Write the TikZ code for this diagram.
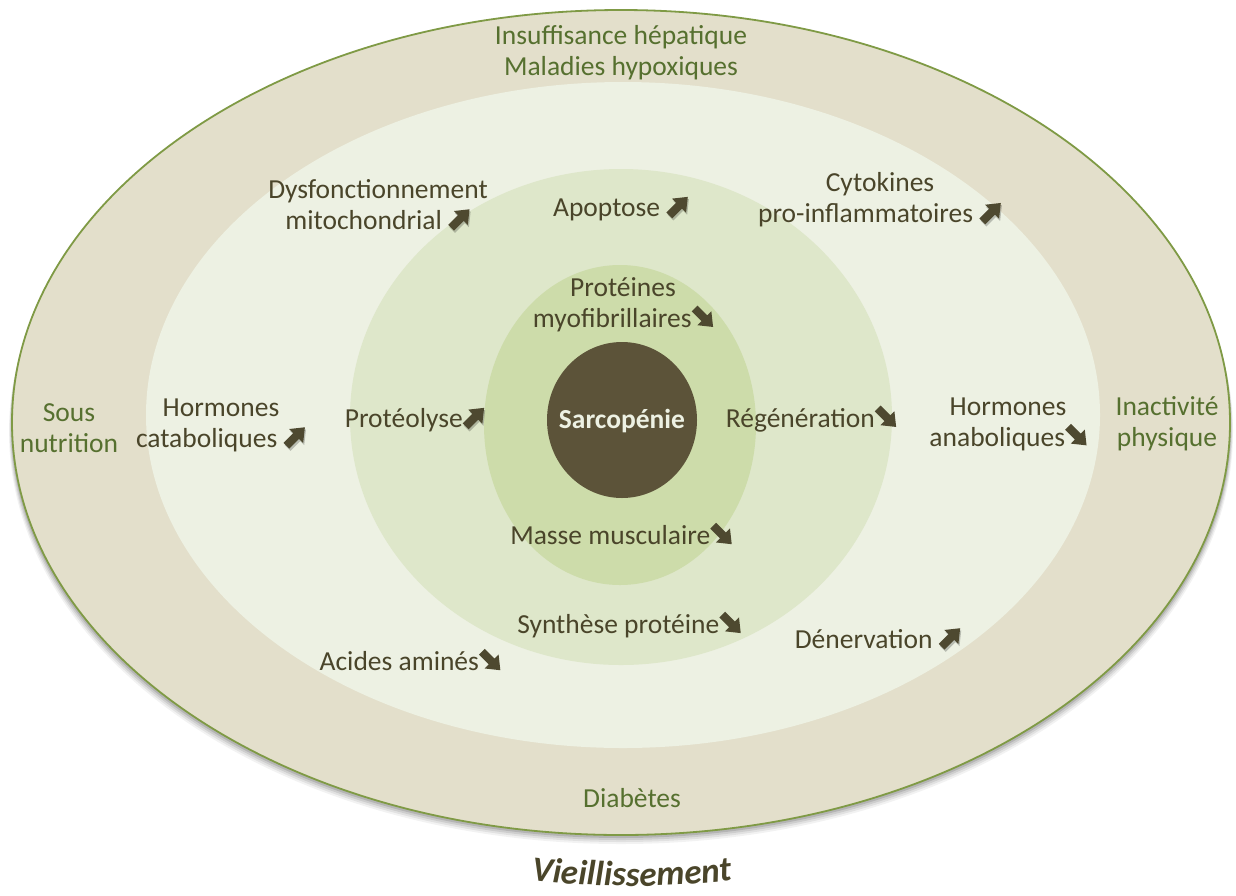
\documentclass[tikz,border=0pt]{standalone}
\usepackage{fontspec}
\setmainfont{Carlito}
\usepackage{xcolor}
\usepackage{tikz}
\usetikzlibrary{
    calc,
    decorations.text
}
\definecolor{beigeout}{HTML}{E3DFCB}
\definecolor{greenpale}{HTML}{EDF1E3}
\definecolor{greenlight}{HTML}{DEE7CA}
\definecolor{greenmid}{HTML}{CDDCAA}
\definecolor{brownsarco}{HTML}{5C5339}
\definecolor{olivetext}{HTML}{56702F}
\definecolor{browntext}{HTML}{4A452A}
\definecolor{arrowbrown}{HTML}{4E4930}
\definecolor{rimgreen}{HTML}{7F9A45}
\newcommand{\arrowshape}{(0,-0.15) -- (0.5,-0.15) -- (0.5,-0.36) -- (0.95,0) -- (0.5,0.36) -- (0.5,0.15) -- (0,0.15) -- cycle}
\newcommand{\hausse}{\tikz[baseline=0pt, x=1em, y=1em]{%
    \fill[black, opacity=0.22, shift={(0.12,-0.03)}, rotate=45] \arrowshape;
    \fill[arrowbrown, shift={(0.08,0.05)}, rotate=45] \arrowshape;}}
\newcommand{\baisse}{\tikz[baseline=0pt, x=1em, y=1em]{%
    \fill[arrowbrown, shift={(0.08,0.70)}, rotate=-45] \arrowshape;}}

\begin{document}
\begin{tikzpicture}[
            x=1pt, y=1pt,
            outer label/.style={text=olivetext, align=center, font=\fontsize{27.5}{31}\selectfont, inner sep=0pt},
            inner label/.style={text=browntext, align=center, font=\fontsize{27.5}{31}\selectfont, inner sep=0pt}
        ]
        \useasboundingbox (0,0) rectangle (1236,-895);
        % rings, from outside in
        \foreach \s/\o in {9/0.05, 7/0.07, 5/0.09, 3/0.12} {
            \fill[black, opacity=\o] (621,-422.5-\s) ellipse [x radius=609+\s/3, y radius=412.5];
        }
        \filldraw[fill=beigeout, draw=rimgreen, line width=1.8pt] (621,-422.5) ellipse [x radius=609, y radius=412.5];
        \fill[greenpale] (623,-415) ellipse [x radius=477, y radius=333];
        \fill[greenlight] (621,-417) ellipse [x radius=271, y radius=248];
        \fill[greenmid] (620,-425) ellipse [x radius=136, y radius=160];
        \fill[brownsarco] (622,-420) ellipse [x radius=75, y radius=78];
        \node[text=greenpale, font=\bfseries\fontsize{27.5}{31}\selectfont] (sarco) at (622,-421) {Sarcopénie};
        % outer ring
        \node[outer label] (hepat) at (621,-53) {Insuffisance hépatique\\Maladies hypoxiques};
        \node[outer label] (nutri) at (69,-428) {Sous\\nutrition};
        \node[outer label] (inact) at (1167,-424) {Inactivité\\physique};
        \node[outer label] (diab) at (632,-798) {Diabètes};
        % second ring
        \node[inner label] (mito) at (378,-206) {Dysfonctionnement\\mitochondrial \hausse};
        \node[inner label] (cyto) at (880,-200) {Cytokines\\pro-inflammatoires \hausse};
        \node[inner label] (catab) at (221,-425) {Hormones\\cataboliques \hausse};
        \node[inner label] (anab) at (1008,-424) {Hormones\\anaboliques\baisse};
        \node[inner label] (amin) at (410,-660) {Acides aminés\baisse};
        \node[inner label] (dener) at (878,-640) {Dénervation \hausse};
        % third ring
        \node[inner label] (apop) at (621,-209) {Apoptose \hausse};
        \node[inner label] (proteo) at (415,-420) {Protéolyse\hausse};
        \node[inner label] (regen) at (811,-419) {Régénération\baisse};
        \node[inner label] (synth) at (629,-625) {Synthèse protéine\baisse};
        % fourth ring
        \node[inner label] (myofib) at (623,-305) {Protéines\\myofibrillaires\baisse};
        \node[inner label] (masse) at (621,-534) {Masse musculaire\baisse};
        % caption on an arc
        \path[decorate, decoration={text along path, text align=center, text color=browntext,
            text={|\bfseries\itshape\fontsize{35}{40}\selectfont|Vieillissement}}]
            (632,14) ++(258:900) arc[start angle=258, end angle=282, radius=900];
    \end{tikzpicture}
\end{document}
